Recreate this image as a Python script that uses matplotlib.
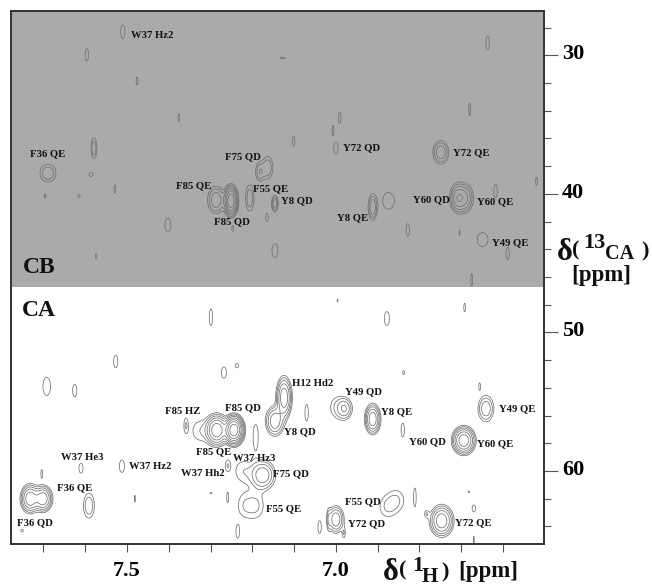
#!/usr/bin/env python3

import numpy as np
import matplotlib
matplotlib.use("Agg")
import matplotlib.pyplot as plt
from matplotlib.transforms import ScaledTranslation

plt.rcParams.update({
    "font.family": ["Liberation Serif", "DejaVu Serif"],
    "font.weight": "bold",
})

# ─── PEAKS ────────────────────────────────────────────────────────────────
# 1H shift, 13C shift, outer half widths (ppm), number of contour rings
peak_h = [7.510, 7.596, 7.476, 7.376, 7.579, 7.689, 7.586, 7.101, 7.182, 7.163,
          7.287, 7.251, 7.206, 7.146, 7.165, 7.402, 7.146, 7.247, 7.574, 7.529,
          7.615, 7.696, 7.000, 7.007, 6.749, 6.912, 6.874, 6.708, 6.689, 6.618,
          6.649, 6.589, 6.828, 6.675, 6.704, 6.991, 6.680, 6.637, 6.520, 7.127,
          7.692, 7.625, 7.268, 7.237, 7.527, 7.299, 6.878, 7.124, 7.146, 7.070,
          7.285, 7.244, 7.325, 7.359, 7.192, 7.175, 7.222, 7.259, 7.610, 7.512,
          7.704, 7.732, 7.701, 7.591, 7.481, 7.299, 7.259, 7.218, 7.189, 7.235,
          7.039, 7.017, 7.751, 6.979, 6.998, 6.912, 6.840, 6.838, 6.641, 6.656,
          6.694, 6.878, 6.854, 6.811, 7.000, 6.981, 6.747, 6.783, 6.670, 6.682,
          6.692, 6.996, 6.670]
peak_c = [28.3, 29.97, 31.85, 34.5, 36.7, 38.5, 38.6, 36.2, 38.4, 38.1,
          40.44, 40.5, 40.3, 40.7, 41.7, 42.25, 44.1, 42.5, 44.5, 39.65,
          40.15, 40.15, 36.7, 35.4, 37.0, 40.95, 40.5, 40.3, 40.3, 39.8,
          43.3, 44.3, 42.6, 46.2, 42.8, 34.5, 33.9, 29.1, 39.1, 30.2,
          53.9, 54.2, 52.9, 52.4, 52.1, 48.9, 49.0, 54.7, 56.4, 55.8,
          57.05, 57.05, 57.1, 56.7, 57.55, 60.3, 60.0, 59.6, 59.8, 59.65,
          60.2, 62.0, 62.0, 62.5, 62.0, 61.6, 61.9, 62.5, 62.5, 64.4,
          64.05, 63.5, 64.3, 55.5, 55.4, 56.25, 57.05, 52.9, 55.5, 53.9,
          57.8, 62.6, 62.1, 61.9, 63.5, 64.5, 63.6, 63.1, 62.7, 61.5,
          48.2, 47.7, 65.0]
width_h = [.005, .004, .002, .002, .007, .019, .005, .003, .010, .012,
           .020, .019, .010, .008, .003, .007, .007, .002, .002, .002,
           .003, .002, .005, .002, .019, .011, .014, .020, .018, .004,
           .013, .004, .004, .002, .001, .003, .002, .004, .002, .006,
           .009, .005, .006, .004, .005, .004, .006, .020, .023, .004,
           .030, .028, .017, .004, .006, .031, .017, .005, .005, .006,
           .002, .024, .024, .013, .001, .002, .002, .015, .014, .004,
           .004, .003, .003, .018, .014, .020, .004, .002, .019, .002,
           .030, .015, .015, .003, .020, .003, .030, .004, .004, .002,
           .002, .001, .001]
width_c = [.50, .45, .30, .30, .75, .65, .14, .35, .65, .80,
           1.0, 1.25, .95, .60, .30, .50, .50, .20, .20, .30,
           .10, .15, .45, .35, .85, .95, .60, 1.1, 1.0, .50,
           .50, .45, .45, .45, .20, .40, .45, .50, .30, .05,
           .65, .45, .40, .15, .45, .60, .50, 1.6, 1.1, .60,
           1.25, 1.25, .65, .45, .90, 1.1, .65, .35, .35, .45,
           .30, 1.1, 1.0, .90, .25, .05, .35, .70, .70, .45,
           .45, .55, .10, .75, .60, 1.15, .50, .15, .95, .25,
           1.1, .60, .60, .65, 1.0, .30, 1.2, .20, .25, .05,
           .30, .10, .30]
rings = [1, 1, 1, 1, 2, 2, 1, 1, 2, 2,
         3, 6, 2, 3, 1, 1, 1, 1, 1, 1,
         1, 1, 1, 1, 3, 3, 1, 4, 3, 1,
         1, 1, 1, 1, 1, 1, 1, 1, 1, 1,
         1, 1, 1, 1, 1, 1, 1, 5, 4, 1,
         6, 8, 1, 1, 1, 4, 1, 1, 1, 1,
         1, 5, 5, 2, 1, 1, 1, 1, 1, 1,
         1, 1, 1, 3, 1, 5, 1, 1, 3, 1,
         6, 1, 1, 1, 4, 1, 5, 1, 1, 1,
         1, 1, 1]

label_names = ["W37 Hz2", "F36 QE", "F75 QD", "F85 QE", "F55 QE", "Y8 QD", "F85 QD",
               "Y72 QD", "Y72 QE", "Y60 QD", "Y60 QE", "Y8 QE", "Y49 QE",
               "H12 Hd2", "F85 HZ", "F85 QD", "Y8 QD", "F85 QE", "W37 He3", "W37 Hz3",
               "W37 Hz2", "W37 Hh2", "F75 QD", "F36 QE", "F55 QE", "F36 QD",
               "Y49 QD", "Y8 QE", "Y49 QE", "Y60 QD", "Y60 QE", "F55 QD", "Y72 QD",
               "Y72 QE"]
label_h = [7.440, 7.689, 7.223, 7.340, 7.156, 7.094, 7.249,
           6.938, 6.677, 6.771, 6.620, 6.960, 6.582,
           7.055, 7.366, 7.223, 7.086, 7.292, 7.608, 7.196,
           7.445, 7.318, 7.108, 7.625, 7.125, 7.720,
           6.933, 6.854, 6.567, 6.780, 6.618, 6.936, 6.926,
           6.672]
label_c = [28.6, 37.1, 37.3, 39.4, 39.6, 40.5, 42.0,
           36.7, 37.0, 40.4, 40.6, 41.7, 43.5,
           53.7, 55.7, 55.4, 57.2, 58.6, 59.0, 59.1,
           59.65, 60.15, 60.2, 61.2, 62.75, 63.7,
           54.3, 55.75, 55.5, 57.9, 58.0, 62.2, 63.8,
           63.7]

x_major = [7.5, 7.0]
x_labels = ["7.5", "7.0"]
x_minor = [7.7, 7.6, 7.4, 7.3, 7.2, 7.1, 6.9, 6.8, 6.7, 6.6]
y_major = [30, 40, 50, 60]
y_minor = [28, 32, 34, 36, 38, 42, 44, 46, 48, 52, 54, 56, 58, 62, 64]

# ─── BUILD THE SURFACE FROM THE PEAK LIST ─────────────────────────────────
xlim = (7.7775, 6.502)
ylim = (65.27, 26.8)
ratio = 1.6
levels = ratio ** np.arange(0, 9)

hh = np.linspace(xlim[1], xlim[0], 1600)
cc = np.linspace(ylim[1], ylim[0], 1600)
surface = np.zeros((cc.size, hh.size))
for h0, c0, wh, wc, n in zip(peak_h, peak_c, width_h, width_c, rings):
    top = 1.5 * ratio ** (n - 1)
    spread = np.sqrt(2 * np.log(top))
    gx = np.exp(-0.5 * ((hh - h0) / (wh / spread)) ** 2)
    gy = np.exp(-0.5 * ((cc - c0) / (wc / spread)) ** 2)
    surface += top * np.outer(gy, gx)

# ─── PLOTTING ─────────────────────────────────────────────────────────────
fig = plt.figure(figsize=(6.52, 5.86), dpi=100)
ax = fig.add_axes([11 / 652, 42 / 586, 533 / 652, 533 / 586])
ax.set_xlim(*xlim)
ax.set_ylim(*ylim)

ax.axhspan(ylim[1], 46.7, color="#aaaaaa", lw=0, zorder=0)
ax.contour(hh, cc, surface, levels=levels, colors="#707070", linewidths=0.55, zorder=2)

for name, h0, c0 in zip(label_names, label_h, label_c):
    ax.text(h0, c0, name, fontsize=7.7, ha="center", va="center", color="#111111", zorder=3)
ax.text(7.711, 45.3, "CB", fontsize=17, ha="center", va="center", color="#111111")
ax.text(7.711, 48.4, "CA", fontsize=17, ha="center", va="center", color="#111111")

# Axis ticks
ax.set_xticks(x_major)
ax.set_xticklabels(x_labels, fontsize=16)
ax.set_xticks(x_minor, minor=True)
ax.set_yticks(y_major)
ax.set_yticklabels([str(v) for v in y_major], fontsize=16)
ax.set_yticks(y_minor, minor=True)
ax.yaxis.tick_right()
ax.tick_params(axis="x", which="both", length=6, width=0.8, color="#555555", pad=6)
ax.tick_params(axis="y", which="major", length=10, width=0.8, color="#555555", pad=3)
ax.tick_params(axis="y", which="minor", length=5, width=0.8, color="#555555")
shift = ScaledTranslation(0, 2.5 / 72, fig.dpi_scale_trans)
for lab in ax.get_yticklabels():
    lab.set_transform(lab.get_transform() + shift)

for side, spine in ax.spines.items():
    spine.set_linewidth(1.4)
    spine.set_color("#333333")

# Axis titles are set piece by piece because of the raised and lowered parts
def piece(px, py, s, size):
    fig.text(px / 652, 1 - py / 586, s, fontsize=size, ha="left", va="center", color="#111111")

piece(557, 252, "δ", 22)
piece(572, 250, "(", 16)
piece(583, 243, "13", 16)
piece(605, 254, "CA", 14.5)
piece(641, 251, ")", 16)
piece(571, 276, "[ppm]", 16.5)

piece(383, 572, "δ", 22)
piece(399, 570, "(", 16)
piece(412, 566, "1", 16)
piece(422, 577, "H", 15)
piece(441, 572, ")", 16)
piece(458, 572, "[ppm]", 16.5)

fig.savefig("out.png", dpi=100, facecolor="white")
